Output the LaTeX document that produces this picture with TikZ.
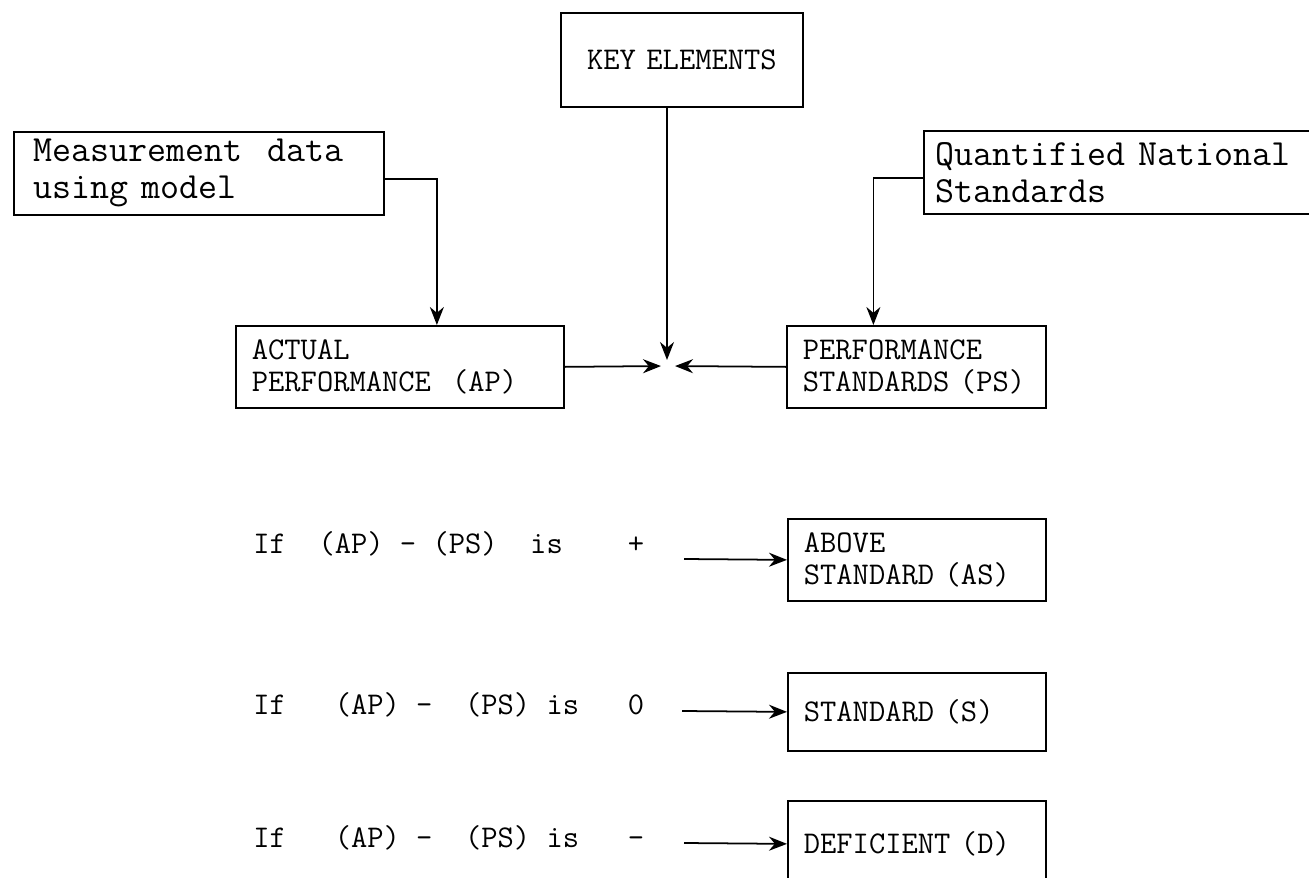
\documentclass[tikz,border=0pt]{standalone}
\usepackage{tikz}
\usetikzlibrary{arrows.meta, positioning, calc}

% one unit of the sheet grid
\newlength\pxu
\setlength\pxu{0.02cm}

\begin{document}
\begin{tikzpicture}[
    x=0.02cm, y=-0.02cm,
    source/.style={draw, line width=1pt, anchor=north west, align=left, inner xsep=16\pxu, inner ysep=0pt, font=\ttfamily\fontsize{21}{21}\selectfont},
    block/.style={source, font=\ttfamily\fontsize{18}{18.5}\selectfont},
    outcome/.style={block, text width=226\pxu, minimum height=82\pxu},
    condition/.style={anchor=base west, inner sep=0pt, font=\ttfamily\fontsize{18}{20}\selectfont},
    arrow/.style={-{Stealth[length=3.6mm, width=2.8mm]}, line width=1pt},
]
\useasboundingbox (0,0) rectangle (1309,878);

% Inputs
\node[source, text width=210\pxu, minimum height=94\pxu, align=center, font=\ttfamily\fontsize{18}{20}\selectfont] (key) at (560,12) {KEY ELEMENTS};
\node[source, text width=330\pxu, minimum height=83\pxu, inner xsep=20\pxu] (meas) at (13,131) {Measurement~~data\\using model};
\node[source, text width=400\pxu, minimum height=83\pxu, inner xsep=12\pxu] (quant) at (923,130) {Quantified National\\Standards};

% Comparison
\node[block, text width=296\pxu, minimum height=82\pxu] (ap) at (235,325) {ACTUAL\\PERFORMANCE~~(AP)};
\node[block, text width=227\pxu, minimum height=82\pxu] (ps) at (786,325) {PERFORMANCE\\STANDARDS~(PS)};
\coordinate (meet) at (667,366);

% Outcomes
\node[outcome] (as) at (787,518) {ABOVE\\STANDARD~(AS)};
\node[outcome, minimum height=78\pxu] (s) at (787,672) {STANDARD~(S)};
\node[outcome, minimum height=86\pxu] (d) at (787,800) {DEFICIENT~(D)};

% Conditions
\node[condition] (if1) at (253,554) {If~~(AP)~-~(PS)~~is~~~~+};
\node[condition] (if2) at (253,714) {If~~~(AP)~-~~(PS)~is~~~0};
\node[condition] (if3) at (253,847) {If~~~(AP)~-~~(PS)~is~~~-};
\coordinate (go1) at (684,559);
\coordinate (go2) at (682,711);
\coordinate (go3) at (684,843);

% Arrows
\draw[arrow] ([yshift=-6\pxu]meas.east) -| ([xshift=37\pxu]ap.north);
\draw[arrow] ([yshift=-6\pxu]quant.west) -| ([xshift=-43\pxu]ps.north);

\draw[arrow, shorten >=6\pxu] (key.south -| meet) -- (meet);
\draw[arrow, shorten >=6\pxu] (ap.east) -- (meet);
\draw[arrow, shorten >=8\pxu] (ps.west) -- (meet);

\draw[arrow] (go1) -- (as.west);
\draw[arrow] (go2) -- (s.west);
\draw[arrow] (go3) -- (d.west);

\end{tikzpicture}
\end{document}
